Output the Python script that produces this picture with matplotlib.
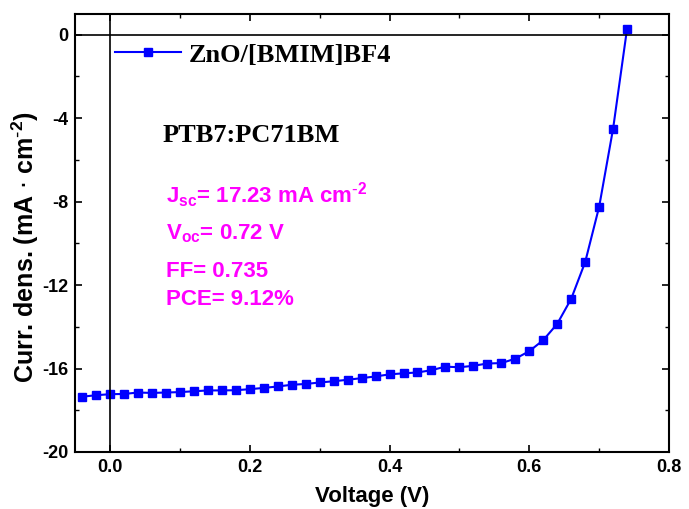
import matplotlib
matplotlib.use("Agg")
import matplotlib.pyplot as plt
from matplotlib.ticker import MultipleLocator

plt.rcParams["axes.unicode_minus"] = False

# J-V data
voltage = [-0.04, -0.02, 0.00, 0.02, 0.04, 0.06, 0.08, 0.10, 0.12, 0.14,
           0.16, 0.18, 0.20, 0.22, 0.24, 0.26, 0.28, 0.30, 0.32, 0.34,
           0.36, 0.38, 0.40, 0.42, 0.44, 0.46, 0.48, 0.50, 0.52, 0.54,
           0.56, 0.58, 0.60, 0.62, 0.64, 0.66, 0.68, 0.70, 0.72, 0.74]
current = [-17.35, -17.28, -17.23, -17.22, -17.15, -17.17, -17.15, -17.13, -17.09, -17.05,
           -17.05, -17.04, -16.99, -16.93, -16.86, -16.78, -16.74, -16.67, -16.61, -16.54,
           -16.46, -16.38, -16.28, -16.23, -16.19, -16.08, -15.91, -15.94, -15.87, -15.76,
           -15.74, -15.53, -15.17, -14.64, -13.86, -12.66, -10.90, -8.25, -4.50, 0.29]

label = "ZnO/[BMIM]BF4"
params = [r"J$_{\mathregular{sc}}$= 17.23 mA cm$^{\mathregular{\text{-}2}}$",
          r"V$_{\mathregular{oc}}$= 0.72 V",
          "FF= 0.735",
          "PCE= 9.12%"]

sans = ["Liberation Sans", "DejaVu Sans"]
serif = ["Liberation Serif", "DejaVu Serif"]

fig = plt.figure(figsize=(6.89, 5.09), dpi=100)
ax = fig.add_axes([0.109, 0.112, 0.862, 0.861])

ax.plot(voltage, current, color="#0000ff", lw=1.5, marker="s", ms=5.5,
        label=label)
ax.axhline(0, color="black", lw=1.2)
ax.axvline(0, color="black", lw=1.2)

ax.set_xlim(-0.05, 0.8)
ax.set_ylim(-20, 1)
ax.xaxis.set_major_locator(MultipleLocator(0.2))
ax.xaxis.set_minor_locator(MultipleLocator(0.1))
ax.yaxis.set_major_locator(MultipleLocator(4))
ax.yaxis.set_minor_locator(MultipleLocator(2))
ax.tick_params(which="both", direction="in", top=True, right=True)
ax.tick_params(which="major", length=5, width=1.2, pad=5)
ax.tick_params(which="minor", length=3, width=1)
for s in ax.spines.values():
    s.set_linewidth(1.5)

ax.set_xticks([0.0, 0.2, 0.4, 0.6, 0.8])
ax.set_xticklabels(["0.0", "0.2", "0.4", "0.6", "0.8"])
for t in ax.get_xticklabels() + ax.get_yticklabels():
    t.set_family(sans)
    t.set_fontweight("bold")
    t.set_fontsize(13)

ax.set_xlabel("Voltage (V)", family=sans, fontweight="bold", fontsize=16)
ax.xaxis.set_label_coords(0.5, -0.078)
ax.set_ylabel(r"Curr. dens. (mA $\cdot$ cm$^{\mathregular{\text{-}2}}$)", family=sans,
              fontweight="bold", fontsize=18)
ax.yaxis.set_label_coords(-0.058, 0.468)

ax.legend(loc="center left", bbox_to_anchor=(0.067, 0.906), frameon=False,
          prop={"family": serif, "weight": "bold", "size": 19},
          handlelength=2.5, handletextpad=0.3, borderpad=0, borderaxespad=0)

ax.text(0.148, 0.708, "PTB7:PC71BM", transform=ax.transAxes, family=serif,
        fontweight="bold", fontsize=19, color="black", va="baseline")

ys = [0.5685, 0.484, 0.3995, 0.3356]
for y, s in zip(ys, params):
    ax.text(0.153, y, s, transform=ax.transAxes, family=sans, fontweight="bold",
            fontsize=16, color="#ff00ff", va="baseline")

fig.savefig("out.png", dpi=100)
